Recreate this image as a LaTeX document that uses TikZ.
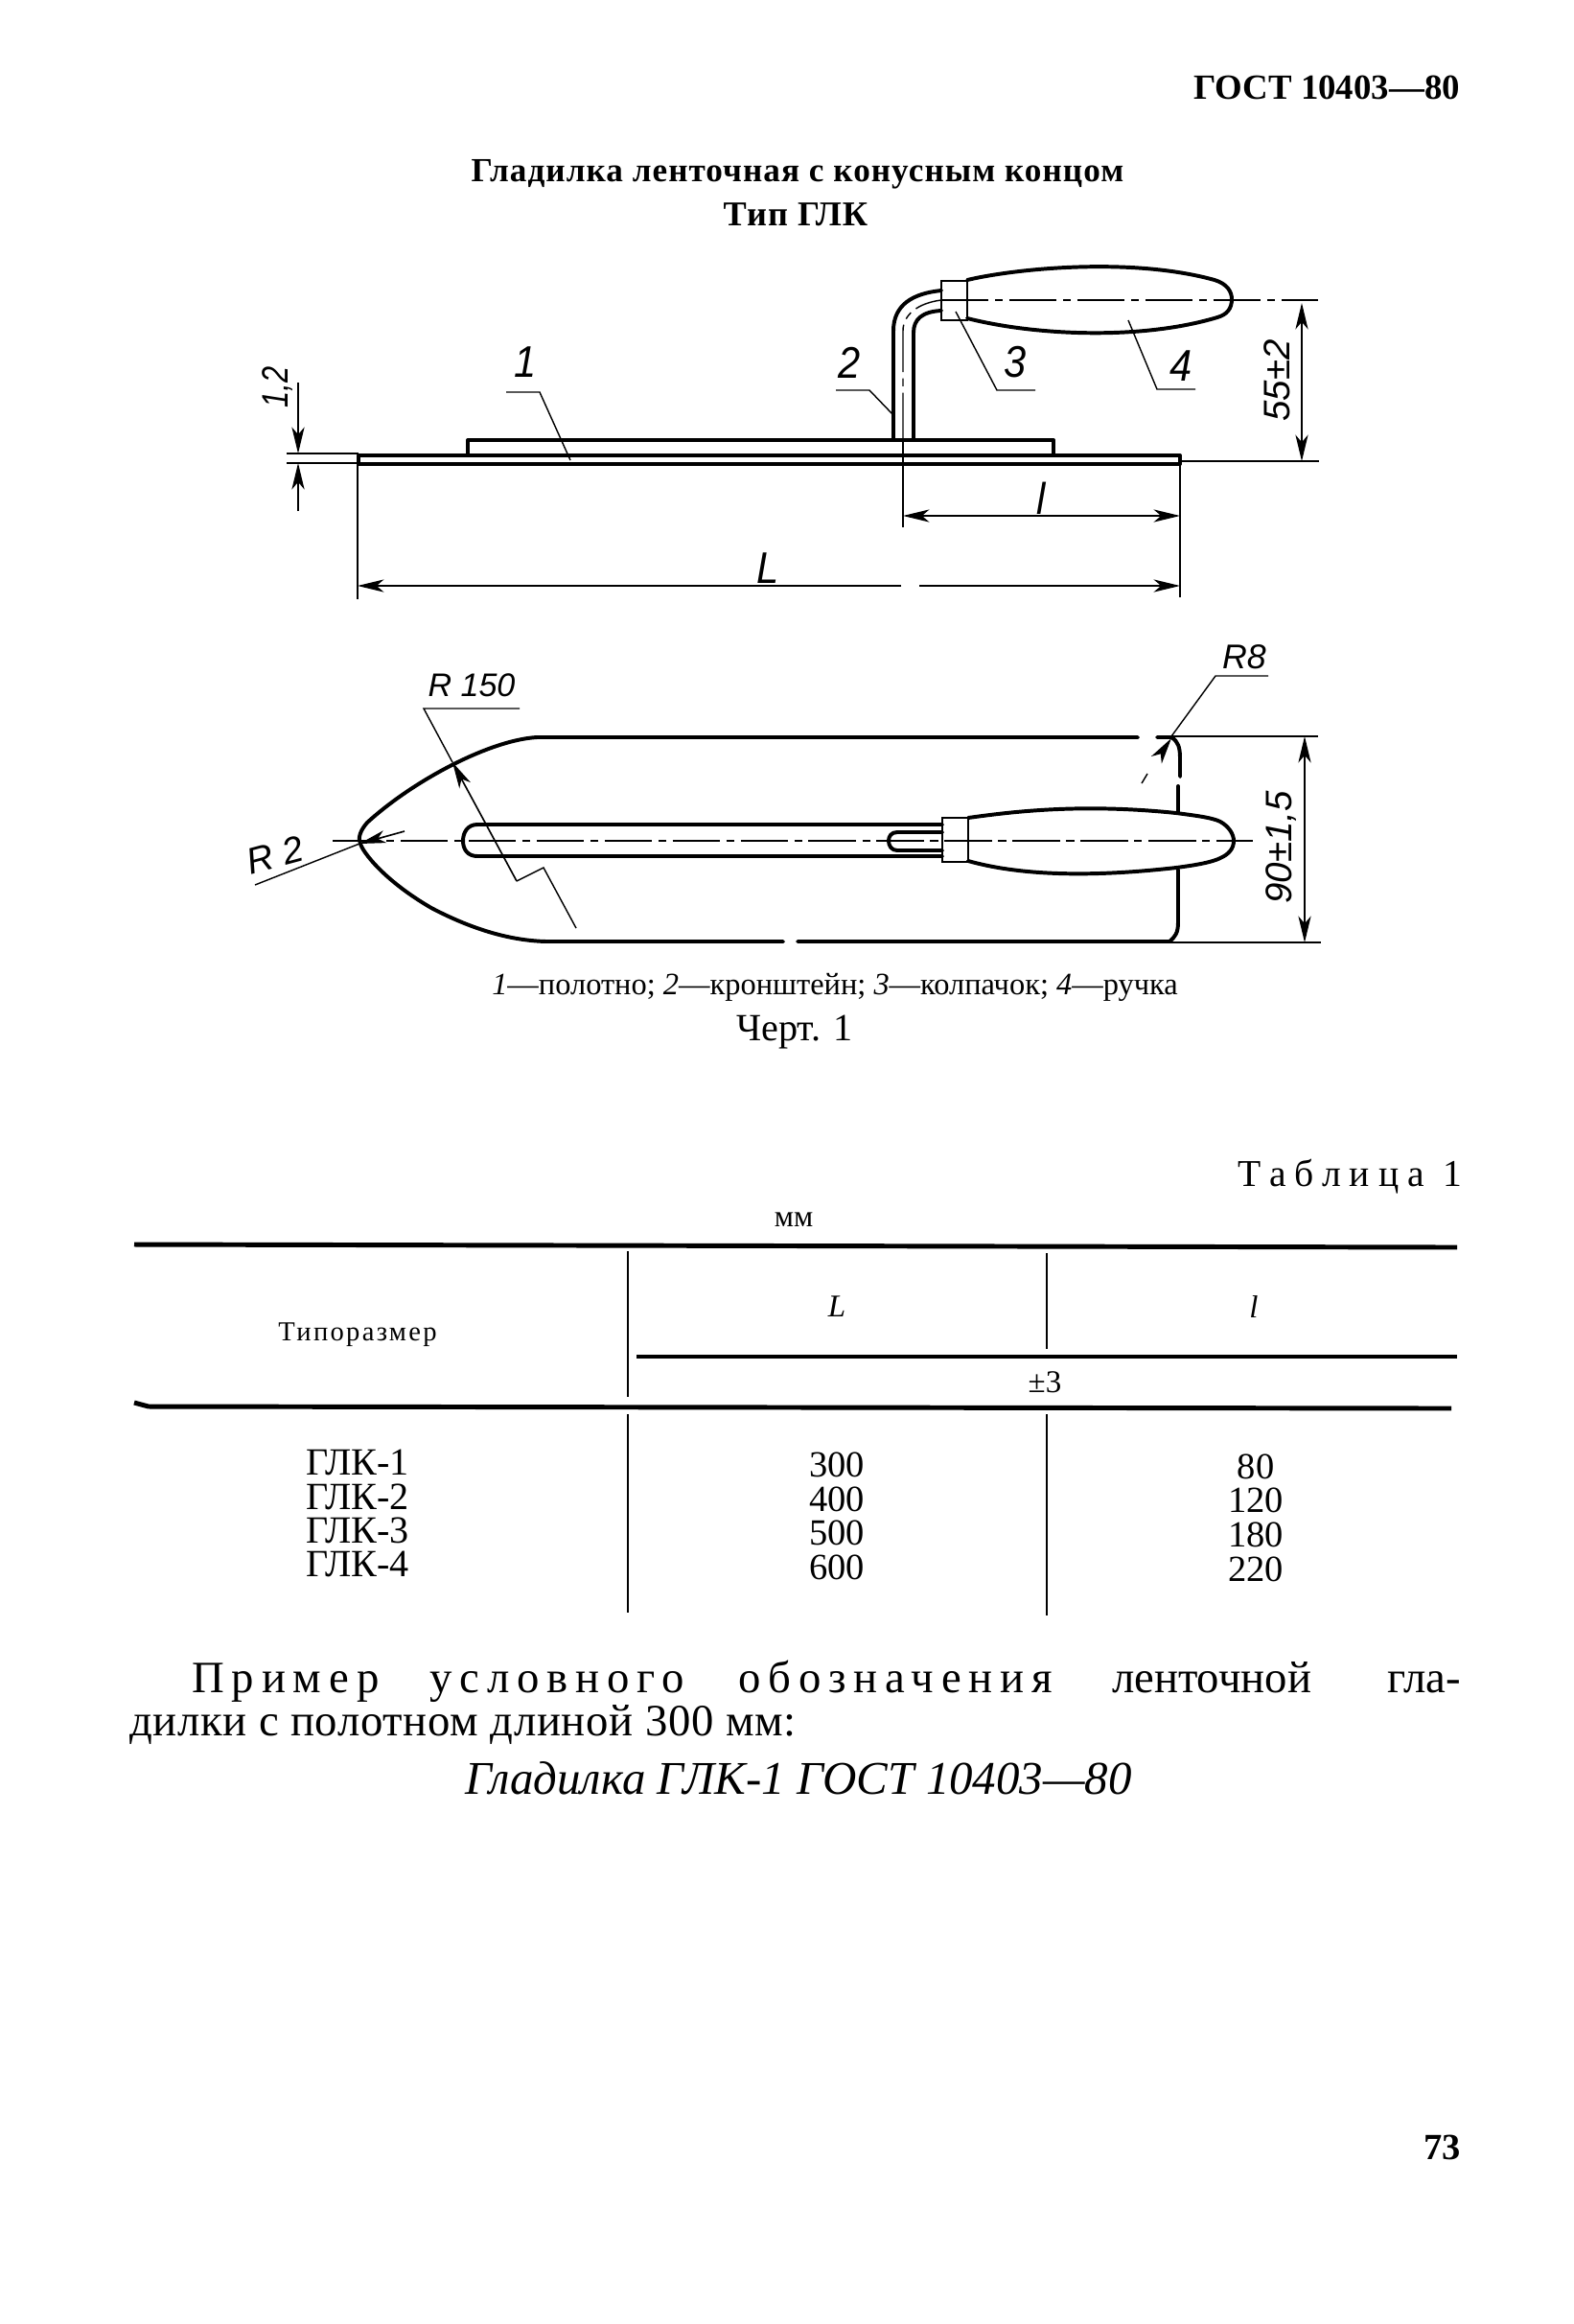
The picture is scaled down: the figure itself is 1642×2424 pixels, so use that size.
\documentclass[tikz,border=0pt]{standalone}
\usepackage{fontspec}
\usetikzlibrary{arrows.meta}
\setmainfont{Liberation Serif}
\newfontfamily\hand{Liberation Sans}
\newfontfamily\spaced[LetterSpace=23]{Liberation Serif}
\newfontfamily\spacedmid[LetterSpace=8]{Liberation Serif}
\newfontfamily\spacedword[LetterSpace=17]{Liberation Serif}
\newfontfamily\slightword[LetterSpace=1.5]{Liberation Serif}
\newfontfamily\boldwide[LetterSpace=3]{Liberation Serif}
\tikzset{
  contour/.style={line width=0.72pt,line join=round,line cap=round},
  thinline/.style={line width=0.26pt},
  capline/.style={line width=0.5pt},
  axisline/.style={line width=0.26pt,dash pattern=on 9pt off 1.2pt on 1.5pt off 1.2pt},
  rule/.style={line width=0.9pt},
  vrule/.style={line width=0.4pt},
  dimarrow/.style={line width=0.3pt,{Stealth[length=5pt,width=2.4pt,inset=1.4pt]}-{Stealth[length=5pt,width=2.4pt,inset=1.4pt]}},
  tipend/.style={line width=0.3pt,-{Stealth[length=5pt,width=2.4pt,inset=1.4pt]}},
  handtext/.style={font=\hand\itshape\fontsize{7pt}{8pt}\selectfont,inner sep=0pt},
  bigdigit/.style={font=\hand\itshape\fontsize{8.4pt}{9pt}\selectfont,inner sep=0pt,xscale=.9},
  cell/.style={font=\fontsize{7pt}{8pt}\selectfont,inner sep=0pt},
  rowhead/.style={font=\fontsize{7.3pt}{8pt}\selectfont,inner sep=0pt},
  bodyword/.style={font=\fontsize{8.5pt}{10pt}\selectfont,inner sep=0pt,anchor=base west},
  spacedbody/.style={font=\spacedword\fontsize{8.5pt}{10pt}\selectfont,inner sep=0pt,anchor=base west},
}
\begin{document}
\begin{tikzpicture}[x=0.0063946cm,y=-0.0063946cm]
\useasboundingbox (0,0) rectangle (1642,2424);
\fill[white] (0,0) rectangle (1642,2424);

% header and titles
\node[font=\bfseries\fontsize{6.7pt}{8pt}\selectfont,inner sep=0pt,anchor=east] (head) at (1524,91) {ГОСТ 10403—80};
\node[font=\boldwide\bfseries\fontsize{6.4pt}{8pt}\selectfont,inner sep=0pt] (title) at (832,182) {Гладилка ленточная с конусным концом};
\node[font=\boldwide\bfseries\fontsize{6.6pt}{8pt}\selectfont,inner sep=0pt] (title2) at (830,224) {Тип ГЛК};

% side view: blade
\draw[contour] (374,475) -- (1231,475) -- (1231,484) -- (374,484) -- cycle;
\draw[contour] (488,475) -- (488,459) -- (1099,459) -- (1099,475);
% bracket
\draw[contour] (932,459) -- (932,345) .. controls (932,318) and (952,306) .. (982,303);
\draw[contour] (953,459) -- (953,347) .. controls (953,333) and (962,325) .. (982,324);
\draw[axisline] (942,459) -- (942,345) .. controls (942,328) and (958,316) .. (982,313);
% cap
\draw[capline] (982,293) rectangle (1009,334);
% handle
\draw[contour] (1009,292) .. controls (1060,280) and (1180,268) .. (1267,292) .. controls (1280,296) and (1285,304) .. (1285,312) .. controls (1285,322) and (1280,328) .. (1270,331) .. controls (1190,355) and (1080,350) .. (1009,332);
\draw[axisline] (982,313) -- (1375,313);

% side-view dimensions
\draw[thinline] (1231,481) -- (1376,481);
\draw[dimarrow] (1358,316) -- (1358,481);
\node[handtext,rotate=90] (d55) at (1332,397) {55±2};
\draw[thinline] (942,459) -- (942,550);
\draw[thinline] (1231,484) -- (1231,623);
\draw[thinline] (373,484) -- (373,625);
\draw[dimarrow] (942,538) -- (1231,538);
\node[bigdigit] (dl) at (1086,520) {l};
\draw[tipend] (940,611) -- (373,611);
\draw[tipend] (959,611) -- (1231,611);
\node[bigdigit] (dL) at (801,593) {L};
\draw[thinline] (299,473) -- (374,473);
\draw[thinline] (299,483) -- (374,483);
\draw[tipend] (311,399) -- (311,473);
\draw[tipend] (311,533) -- (311,483);
\node[handtext,rotate=90,xscale=.8] (d12) at (290,404) {1,2};

% leaders
\node[bigdigit] (p1) at (548,378) {1};
\draw[thinline] (528,409) -- (563,409) -- (595,480);
\node[bigdigit] (p2) at (886,378) {2};
\draw[thinline] (872,407) -- (907,407) -- (933,434);
\node[bigdigit] (p3) at (1059,378) {3};
\draw[thinline] (1080,407) -- (1040,407) -- (997,325);
\node[bigdigit] (p4) at (1232,382) {4};
\draw[thinline] (1247,406) -- (1207,406) -- (1177,334);

% plan view: blade
\draw[contour] (1187,769) -- (560,769) .. controls (510,772) and (430,815) .. (383,858) .. controls (376,866) and (373,874) .. (376,880);
\draw[contour] (376,880) .. controls (378,888) and (400,918) .. (450,947) .. controls (490,968) and (530,981) .. (570,982) -- (817,982);
\draw[contour] (832,982) -- (1220,982) .. controls (1226,977) and (1229,973) .. (1229,962) -- (1229,907);
\draw[contour] (1207,769) -- (1222,769) .. controls (1229,773) and (1231,780) .. (1231,790) -- (1231,810);
\draw[contour] (1229,820) -- (1229,847);
\draw[thinline] (1222,768) -- (1375,768);
\draw[thinline] (1220,983) -- (1378,983);

% slot and handle, plan view
\draw[contour] (983,860) -- (498,860) .. controls (488,860) and (483,868) .. (483,877) .. controls (483,886) and (488,893) .. (498,893) -- (983,893);
\draw[contour] (983,868) -- (936,868) .. controls (930,868) and (927,872) .. (927,877) .. controls (927,882) and (930,887) .. (936,887) -- (983,887);
\draw[capline] (983,853) rectangle (1010,899);
\draw[contour] (1010,853) .. controls (1060,846) and (1130,838) .. (1227,848) .. controls (1250,851) and (1265,853) .. (1273,857) .. controls (1282,862) and (1287,870) .. (1287,877) .. controls (1287,885) and (1282,891) .. (1273,895) .. controls (1265,899) and (1250,902) .. (1227,905) .. controls (1130,916) and (1060,912) .. (1010,898);
\draw[axisline] (347,877) -- (1307,877);

% plan-view dimensions
\draw[dimarrow] (1361,768) -- (1361,983);
\node[handtext,rotate=90] (d90) at (1337,884) {90±1,5};
\node[handtext,font=\hand\itshape\fontsize{6.2pt}{7pt}\selectfont] (r150) at (492,715) {R 150};
\draw[thinline] (542,739) -- (442,739) -- (472,795);
\draw[tipend] (539,919) -- (472,795);
\draw[thinline] (539,919) -- (567,905) -- (601,968);
\node[handtext,rotate=15] (r2) at (287,892) {R 2};
\draw[thinline] (266,923) -- (375,880);
\draw[tipend] (422,867) -- (375,880);
\node[handtext,font=\hand\itshape\fontsize{6.5pt}{7pt}\selectfont] (r8) at (1298,685) {R8};
\draw[thinline] (1323,705) -- (1268,705) -- (1222,768);
\draw[tipend] (1211,786) -- (1222,770);
\draw[thinline] (1197,807) -- (1191,817);

% caption
\node[font=\fontsize{5.9pt}{7pt}\selectfont,inner sep=0pt] (cap) at (871,1030) {\textit{1}—полотно; \textit{2}—кронштейн; \textit{3}—колпачок; \textit{4}—ручка};
\node[font=\fontsize{7.3pt}{8pt}\selectfont,inner sep=0pt] (fig) at (829,1077) {Черт. 1};

% table
\node[font=\spaced\fontsize{7.2pt}{8pt}\selectfont,inner sep=0pt,anchor=east] (tabn) at (1526,1227) {Таблица 1};
\node[cell,font=\fontsize{5.8pt}{7pt}\selectfont] (mm) at (828,1272) {мм};
\draw[rule] (140,1298) -- (1520,1301);
\draw[rule] (140,1463) -- (155,1467) -- (1514,1469);
\draw[rule,line width=.65pt] (664,1415) -- (1520,1415);
\draw[vrule] (655,1305) -- (655,1457);
\draw[vrule] (1092,1307) -- (1092,1407);
\draw[vrule] (655,1475) -- (655,1682);
\draw[vrule] (1092,1475) -- (1092,1685);
\node[font=\spacedmid\fontsize{5.2pt}{7pt}\selectfont,inner sep=0pt] (h1) at (373,1392) {Типоразмер};
\node[cell,font=\itshape\fontsize{6pt}{7pt}\selectfont] (hL) at (873,1363) {L};
\node[cell,font=\itshape\fontsize{6pt}{7pt}\selectfont] (hl) at (1308,1363) {l};
\node[cell,font=\fontsize{6pt}{7pt}\selectfont] (pm) at (1090,1442) {±3};
\node[rowhead] (a1) at (373,1525) {ГЛК-1};
\node[rowhead] (a2) at (373,1561) {ГЛК-2};
\node[rowhead] (a3) at (373,1596) {ГЛК-3};
\node[rowhead] (a4) at (373,1631) {ГЛК-4};
\node[cell] (b1) at (873,1528) {300};
\node[cell] (b2) at (873,1564) {400};
\node[cell] (b3) at (873,1599) {500};
\node[cell] (b4) at (873,1635) {600};
\node[cell] (c1) at (1310,1530) {80};
\node[cell] (c2) at (1310,1565) {120};
\node[cell] (c3) at (1310,1601) {180};
\node[cell] (c4) at (1310,1637) {220};

% paragraph
\node[spacedbody] (w1) at (199,1765) {Пример};
\node[spacedbody] (w2) at (447,1765) {условного};
\node[spacedbody] (w3) at (769,1765) {обозначения};
\node[bodyword] (w4) at (1159,1765) {ленточной};
\node[bodyword,anchor=base east] (w5) at (1525,1765) {гла-};
\node[bodyword,font=\slightword\fontsize{8.5pt}{10pt}\selectfont] (line2) at (134,1810) {дилки с полотном длиной 300 мм:};
\node[bodyword,font=\itshape\fontsize{8.9pt}{10pt}\selectfont] (ex) at (484,1871) {Гладилка ГЛК-1 ГОСТ 10403—80};
\node[font=\bfseries\fontsize{7pt}{8pt}\selectfont,inner sep=0pt,anchor=east] (pg) at (1525,2240) {73};
\end{tikzpicture}
\end{document}
